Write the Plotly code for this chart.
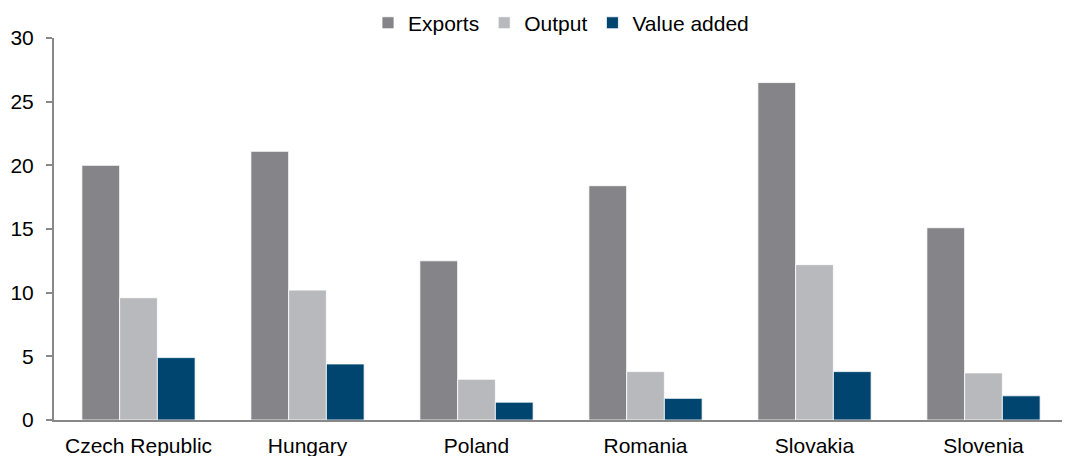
import plotly.graph_objects as go

countries = ["Czech Republic", "Hungary", "Poland", "Romania", "Slovakia", "Slovenia"]
exports = [20.0, 21.1, 12.5, 18.4, 26.5, 15.1]
output = [9.6, 10.2, 3.2, 3.8, 12.2, 3.7]
value_added = [4.9, 4.4, 1.4, 1.7, 3.8, 1.9]

fig = go.Figure()
fig.add_trace(go.Bar(x=countries, y=exports, name="Exports",
                     marker=dict(color="#858589", line=dict(color="white", width=0.8))))
fig.add_trace(go.Bar(x=countries, y=output, name="Output",
                     marker=dict(color="#b8b9bd", line=dict(color="white", width=0.8))))
fig.add_trace(go.Bar(x=countries, y=value_added, name="Value added",
                     marker=dict(color="#004570", line=dict(color="white", width=0.8))))

# page body has an 8px margin, so the figure is a bit smaller than the window
fig.update_layout(
    width=1062, height=448,
    margin=dict(l=46, r=2, t=30, b=36, autoexpand=False),
    paper_bgcolor="white", plot_bgcolor="white",
    font=dict(family="Liberation Sans, Arial", size=21, color="black"),
    barmode="group", bargap=0.33, bargroupgap=0,
    legend=dict(orientation="h", x=0.5, xanchor="center", y=1.039, yanchor="middle",
                font=dict(size=21), itemwidth=30,
                traceorder="normal", tracegroupgap=0),
    showlegend=True,
)
fig.update_xaxes(showline=True, linecolor="#888888", linewidth=2, ticks="",
                 showgrid=False, tickfont=dict(size=21), automargin=False,
                 ticklabelstandoff=6)
fig.update_yaxes(range=[0, 30], dtick=5, showline=True, linecolor="#888888", linewidth=2,
                 ticks="outside", ticklen=6, tickcolor="#888888", tickwidth=2,
                 showgrid=False, zeroline=False, tickfont=dict(size=21), automargin=False,
                 ticklabelstandoff=8)

fig.write_html("out.html")
